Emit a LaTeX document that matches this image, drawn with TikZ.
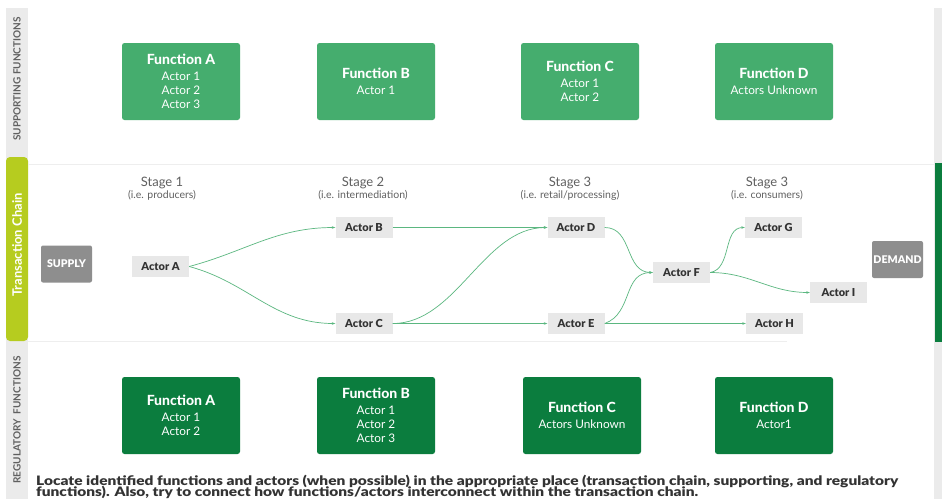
\documentclass[tikz,border=0pt]{standalone}
\usepackage{fontspec}
\setmainfont{Lato}
\IfFontExistsTF{Lato Black}{\newfontfamily\heavyfont{Lato Black}\newfontfamily\notefont{Lato Black}[FakeStretch=1.19]}{\newfontfamily\heavyfont{Lato}[UprightFont=*-Bold,FakeBold=1.5]\newfontfamily\notefont{Lato}[UprightFont=*-Bold,FakeBold=1.5,FakeStretch=1.19]}
\IfFontExistsTF{Lato Heavy}{\newfontfamily\semiheavy{Lato Heavy}}{\newfontfamily\semiheavy{Lato}[UprightFont=*-Bold]}
\usetikzlibrary{arrows.meta}
\definecolor{medgreen}{HTML}{45AD6E}
\definecolor{darkgreen}{HTML}{0B7D3E}
\definecolor{actorgray}{HTML}{E8E8E8}
\definecolor{supplygray}{HTML}{8E8E8E}
\definecolor{stripgray}{HTML}{EBEBEB}
\definecolor{limegreen}{HTML}{B6CC1F}
\definecolor{flowgreen}{HTML}{5BB780}
\definecolor{stagegray}{HTML}{606060}
\definecolor{textdark}{HTML}{333333}
\definecolor{sepgray}{HTML}{EEEEEE}
\tikzset{
  funcbox/.style={rounded corners=2.5pt, minimum width=118pt, minimum height=77pt, text=white, align=center, inner sep=0pt, font=\fontsize{11.8}{14}\selectfont},
  supbox/.style={funcbox, fill=medgreen},
  regbox/.style={funcbox, fill=darkgreen},
  actorbox/.style={fill=actorgray, minimum width=57pt, minimum height=21pt, inner sep=0pt, font=\fontsize{11}{12}\heavyfont, text=textdark},
  endbox/.style={fill=supplygray, rounded corners=2pt, minimum width=51pt, minimum height=37pt, inner sep=0pt, text=white, font=\fontsize{10.6}{11}\heavyfont},
  stagelbl/.style={align=center, text=stagegray, inner sep=0pt},
  flow/.style={draw=flowgreen, line width=0.7pt, -{Stealth[length=3.5pt,width=2.5pt]}},
  sidelbl/.style={rotate=90, inner sep=0pt, font=\fontsize{10}{12}\selectfont\bfseries},
  notetext/.style={anchor=base west, inner sep=0pt, text=textdark, font=\fontsize{13}{14}\notefont},
}
\newcommand{\ftitle}[1]{{\fontsize{14}{14}\semiheavy #1}}
\begin{document}
\begin{tikzpicture}[x=1pt,y=-1pt]
\useasboundingbox (0,0) rectangle (942,499);
\fill[white] (0,0) rectangle (942,499);
% side strips
\fill[stripgray] (6,8) rectangle (28,499);
\fill[limegreen, rounded corners=4pt] (6,157) rectangle (28,341);
\fill[stripgray] (934,8) rectangle (942,499);
\fill[darkgreen] (935,163) rectangle (942,342);
% separators
\draw[sepgray, line width=0.8pt] (28,164) -- (934,164);
\draw[sepgray, line width=0.8pt] (28,341) -- (787,341);
% side labels
\node[sidelbl, text=stagegray] (suplbl) at (17,79) {SUPPORTING FUNCTIONS};
\node[sidelbl, text=white, font=\fontsize{13}{14}\selectfont\bfseries] (tclbl) at (17,245) {Transaction Chain};
\node[sidelbl, text=stagegray] (reglbl) at (17,420) {REGULATORY\ \ FUNCTIONS};
% supporting functions
\node[supbox] (sA) at (181,81.5) {\ftitle{Function A}\\[2pt]Actor 1\\Actor 2\\Actor 3};
\node[supbox] (sB) at (376,81.5) {\ftitle{Function B}\\[2pt]Actor 1};
\node[supbox] (sC) at (580,81.5) {\ftitle{Function C}\\[2pt]Actor 1\\Actor 2};
\node[supbox] (sD) at (774,81.5) {\ftitle{Function D}\\[2pt]Actors Unknown};
% regulatory functions
\node[regbox] (rA) at (181,415.5) {\ftitle{Function A}\\[2pt]Actor 1\\Actor 2};
\node[regbox] (rB) at (376,415.5) {\ftitle{Function B}\\[2pt]Actor 1\\Actor 2\\Actor 3};
\node[regbox] (rC) at (582,415.5) {\ftitle{Function C}\\[2pt]Actors Unknown};
\node[regbox] (rD) at (774,415.5) {\ftitle{Function D}\\[2pt]Actor1};
% stage labels
\node[stagelbl] (st1) at (162,188.5) {{\fontsize{13}{13}\selectfont Stage 1}\\{\fontsize{10.5}{12}\selectfont (i.e. producers)}};
\node[stagelbl] (st2) at (363,188.5) {{\fontsize{13}{13}\selectfont Stage 2}\\{\fontsize{10.5}{12}\selectfont (i.e. intermediation)}};
\node[stagelbl] (st3) at (570,188.5) {{\fontsize{13}{13}\selectfont Stage 3}\\{\fontsize{10.5}{12}\selectfont (i.e. retail/processing)}};
\node[stagelbl] (st4) at (767,188.5) {{\fontsize{13}{13}\selectfont Stage 3}\\{\fontsize{10.5}{12}\selectfont (i.e. consumers)}};
% chain
\node[endbox] (supply) at (66.5,264) {SUPPLY};
\node[endbox] (demand) at (897.5,259.5) {DEMAND};
\node[actorbox] (a) at (160.5,266.5) {Actor A};
\node[actorbox] (b) at (364,227.5) {Actor B};
\node[actorbox] (c) at (364,323.5) {Actor C};
\node[actorbox] (d) at (576,227.5) {Actor D};
\node[actorbox] (e) at (576,323.5) {Actor E};
\node[actorbox] (f) at (681.5,272.5) {Actor F};
\node[actorbox] (g) at (773.5,227.5) {Actor G};
\node[actorbox] (i) at (838.5,292.5) {Actor I};
\node[actorbox] (h) at (774.5,323.5) {Actor H};
% flows
\draw[flow] (a.east) to[out=15,in=180] (b.west);
\draw[flow] (a.east) to[out=-15,in=180] (c.west);
\draw[flow] (b.east) -- (d.west);
\draw[flow] (c.east) to[out=0,in=180,looseness=0.9] (d.west);
\draw[flow] (c.east) -- (e.west);
\draw[flow] (d.east) to[out=0,in=180,looseness=1.1] (f.west);
\draw[flow] (e.east) to[out=20,in=180,looseness=1.1] (f.west);
\draw[flow] (e.east) -- (h.west);
\draw[flow] (f.east) to[out=10,in=180] (g.west);
\draw[flow] (f.east) to[out=0,in=180] (i.west);
% instructions
\node[notetext] (note1) at (36,485) {Locate identified functions and actors (when possible) in the appropriate place (transaction chain, supporting, and regulatory};
\node[notetext] (note2) at (36,496) {functions). Also, try to connect how functions/actors interconnect within the transaction chain.};
\end{tikzpicture}
\end{document}
